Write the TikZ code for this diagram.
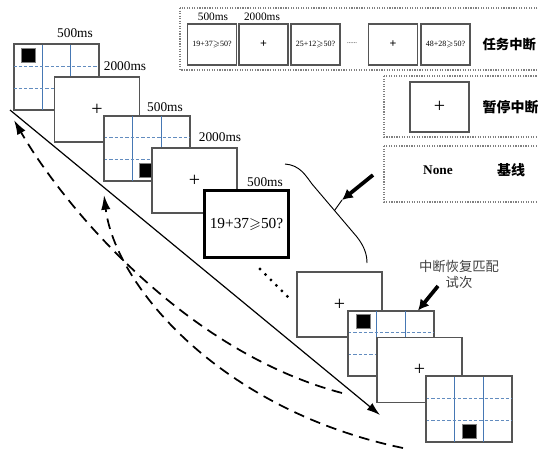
\documentclass[tikz,border=0pt]{standalone}
\usepackage{fontspec}
\usepackage{amssymb}
\setmainfont{Liberation Serif}
\newfontfamily\cjk{Noto Sans CJK SC}
\usetikzlibrary{calc,arrows.meta}

\definecolor{gridblue}{RGB}{70,120,180}
\definecolor{framegray}{RGB}{85,85,85}

\tikzset{
  screen/.style={draw=framegray,fill=white,line width=0.8pt,minimum width=63.75pt,minimum height=48.75pt,inner sep=0pt,font=\fontsize{15}{16}\selectfont},
  probescreen/.style={screen,draw=black,line width=2.4pt,minimum width=63pt,minimum height=50.25pt,font=\fontsize{11.5}{13}\selectfont},
  minibox/.style={draw=framegray,fill=white,line width=0.8pt,minimum width=36.75pt,minimum height=30.75pt,inner sep=0pt,font=\fontsize{6}{7}\selectfont},
  panel/.style={draw=gray,densely dotted,line width=0.9pt},
  gridv/.style={draw=gridblue,line width=0.7pt},
  gridh/.style={draw=gridblue!85,dash pattern=on 2.5pt off 1.5pt,line width=0.6pt},
  blk/.style={fill=black,draw=gray,minimum size=10.5pt,inner sep=0pt},
  msec/.style={font=\fontsize{10}{12}\selectfont},
  fatarrow/.style={-{Latex[length=8pt,width=8.5pt]},line width=2.8pt},
  loopback/.style={-{Latex[length=11pt,width=7pt]},line width=1.3pt,dash pattern=on 8pt off 5pt},
}

% blue grid of a cue screen
\newcommand\cuegrid[1]{%
  \foreach \k in {1,2}{
    \draw[gridv] ($(#1.north west)!\k/3!(#1.north east)$) -- ($(#1.south west)!\k/3!(#1.south east)$);
    \draw[gridh] ($(#1.north west)!\k/3!(#1.south west)$) -- ($(#1.north east)!\k/3!(#1.south east)$);
  }
  \draw[draw=framegray,line width=0.8pt] (#1.north west) rectangle (#1.south east);
}

\begin{document}
\begin{tikzpicture}[x=0.75pt,y=-0.75pt]
\useasboundingbox (0,0) rectangle (538,450);
\clip (0,0) rectangle (538,450);

% task interruption
\draw[panel] (180,8) rectangle (545,70);
\node[font=\fontsize{8.5}{10}\selectfont] (tl1) at (213,17) {500ms};
\node[font=\fontsize{8.5}{10}\selectfont] (tl2) at (262,17) {2000ms};
\node[minibox] (ta) at (212,44.5) {19+37$\geqslant$50?};
\node[minibox,font=\small\bfseries] (tb) at (263.5,44.5) {+};
\node[minibox] (tc) at (315.5,44.5) {25+12$\geqslant$50?};
\node[font=\fontsize{5}{6}\selectfont] (tdots) at (352,43) {......};
\node[minibox,font=\small\bfseries] (td) at (393,44.5) {+};
\node[minibox] (te) at (445.5,44.5) {48+28$\geqslant$50?};
\node[anchor=west,inner sep=1pt,font=\cjk\bfseries\fontsize{10}{12}\selectfont] (task) at (481,44) {任务中断};

% pause interruption
\draw[panel] (384,76) rectangle (545,137);
\node[draw=framegray,line width=0.8pt,minimum width=44.25pt,minimum height=37.5pt,font=\fontsize{15}{16}\selectfont] (pa) at (439.5,107) {+};
\node[anchor=west,inner sep=1pt,font=\cjk\bfseries\fontsize{10.5}{12}\selectfont] (pause) at (481,107) {暂停中断};

% baseline
\draw[panel] (384,146) rectangle (545,202);
\node[font=\bfseries] (none) at (438,170) {None};
\node[font=\cjk\bfseries\fontsize{10.5}{12}\selectfont] (base) at (511,170) {基线};

% bracket and pointer
\draw[line width=0.7pt] (285,164) .. controls (300,165) and (306,176) .. (312,184)
  -- coordinate[pos=0.5] (hit) (357,237) .. controls (364,246) and (367,254) .. (367,263);
\coordinate (ptail) at (373,175);
\coordinate (phead) at (342,200);
\draw[line width=0.7pt] (hit) -- (phead);
\draw[fatarrow] (ptail) -- (phead);

% time axis and return paths
\coordinate (d0) at (10,110);
\coordinate (d1) at (380,415);
\draw[-{Latex[length=10pt,width=6.5pt]},line width=0.9pt] (d0) -- (d1);
\coordinate (ra) at (342,393);
\coordinate (rb) at (14,120);
\coordinate (rc) at (403,448);
\coordinate (rd) at (104,195);
\draw[loopback] (ra) .. controls (180,350) and (60,200) .. (rb);
\draw[loopback] (rc) .. controls (220,410) and (115,285) .. (rd);

% screens
\node[screen] (f1) at (56.5,77) {};
\cuegrid{f1}
\node[blk] (q1) at (28,55.5) {};
\node[msec] (l1) at (75,33) {500ms};
\node[msec] (l2) at (125,66) {2000ms};
\node[screen] (f2) at (97,109.5) {+};
\node[screen] (f3) at (147,148.5) {};
\cuegrid{f3}
\node[blk] (q3) at (146,170.5) {};
\node[msec] (l3) at (165,107) {500ms};
\node[msec] (l4) at (220,137) {2000ms};
\node[screen] (f4) at (194.5,180.5) {+};
\node[msec] (l5) at (265,182) {500ms};
\node[probescreen] (f5) at (246.5,224) {19+37$\geqslant$50?};

\coordinate (g0) at (260,269);
\coordinate (g1) at (289,298);
\draw[line width=2.4pt,line cap=round,dash pattern=on 0pt off 5.8pt] (g0) -- (g1);

\node[screen] (f6) at (339.5,304.5) {+};
\node[screen] (f7) at (391,343.5) {};
\cuegrid{f7}
\node[blk] (q7) at (363,321.5) {};
\node[screen] (f8) at (419.5,370) {+};
\node[screen] (f9) at (469,409) {};
\cuegrid{f9}
\node[blk] (q9) at (469,431.5) {};

% matched trial
\node[align=center,text=black!75,font=\cjk\fontsize{10}{11.5}\selectfont] (lbl) at (459,274.5) {中断恢复匹配\\试次};
\coordinate (mtail) at (438,286);
\draw[fatarrow] (mtail) -- ($(f7.north east)+(-16,0)$);

\end{tikzpicture}
\end{document}
